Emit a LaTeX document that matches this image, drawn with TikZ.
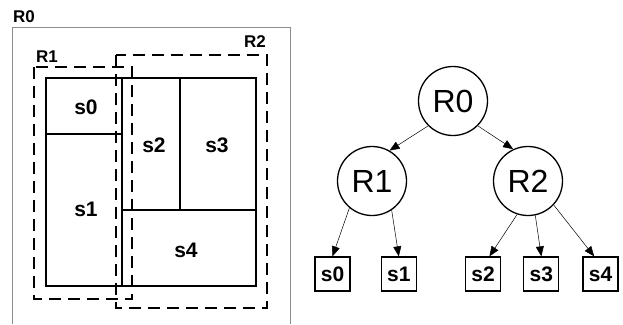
\documentclass[tikz,border=0pt]{standalone}
\usepackage{fontspec}
\setmainfont{Liberation Sans}[BoldFont={Liberation Sans Bold}]
\usetikzlibrary{arrows.meta,positioning}
\tikzset{
  rgn/.style={circle, draw, line width=1.3pt, minimum size=69pt, inner sep=0pt,
              font=\fontsize{32}{32}\selectfont},
  leaf/.style={draw, line width=1.3pt, minimum width=35pt, minimum height=34pt,
               inner sep=0pt, font=\bfseries\fontsize{21}{21}\selectfont},
  sig/.style={-{Triangle[length=10pt,width=8pt]}, line width=0.5pt},
  lbl/.style={font=\bfseries\fontsize{17}{17}\selectfont, inner sep=0pt},
  cell/.style={font=\bfseries\fontsize{21}{21}\selectfont, inner sep=0pt},
  part/.style={line width=1.4pt},
  bnd/.style={line width=1.8pt, dash pattern=on 12pt off 7pt},
}
\begin{document}
\begin{tikzpicture}[x=1pt, y=-1pt]
  \useasboundingbox (0,0) rectangle (623,324);
  % space split
  \node[lbl] (t0) at (24,16.5) {R0};
  \draw[black!45, line width=0.7pt] (12,324) -- (12,27) -- (290,27) -- (290,324);
  \draw[part] (46,78) rectangle (256,286);
  \draw[part] (122,78) -- (122,286);
  \draw[part] (46,134) -- (122,134);
  \draw[part] (180,78) -- (180,210);
  \draw[part] (122,210) -- (256,210);
  \draw[bnd] (34,67) rectangle (132,299);
  \draw[bnd] (116,55) rectangle (267,308);
  \node[lbl] (t1) at (47,57) {R1};
  \node[lbl] (t2) at (255,41.5) {R2};
  \node[cell] (c0) at (86,107) {s0};
  \node[cell] (c1) at (86,209) {s1};
  \node[cell] (c2) at (154,145) {s2};
  \node[cell] (c3) at (217,145) {s3};
  \node[cell] (c4) at (186,250) {s4};
  % tree
  \node[rgn] (r0) at (453,101) {R0};
  \node[rgn] (r1) at (372,181) {R1};
  \node[rgn] (r2) at (528,181) {R2};
  \node[leaf] (s0) at (332.5,274) {s0};
  \node[leaf, right=30pt of s0] (s1) {s1};
  \node[leaf] (s2) at (483,274) {s2};
  \node[leaf, right=22pt of s2] (s3) {s3};
  \node[leaf, right=23pt of s3] (s4) {s4};
  \draw[sig] (r0.225) -- (r1.60);
  \draw[sig] (r0.-45) -- (r2.115);
  \draw[sig] (r1.-130) -- (s0.north);
  \draw[sig] (r1.-56) -- (s1.north);
  \draw[sig] (r2.-108) -- (s2.70);
  \draw[sig] (r2.-78) -- (s3.north);
  \draw[sig] (r2.-43) -- (s4.110);
\end{tikzpicture}
\end{document}
